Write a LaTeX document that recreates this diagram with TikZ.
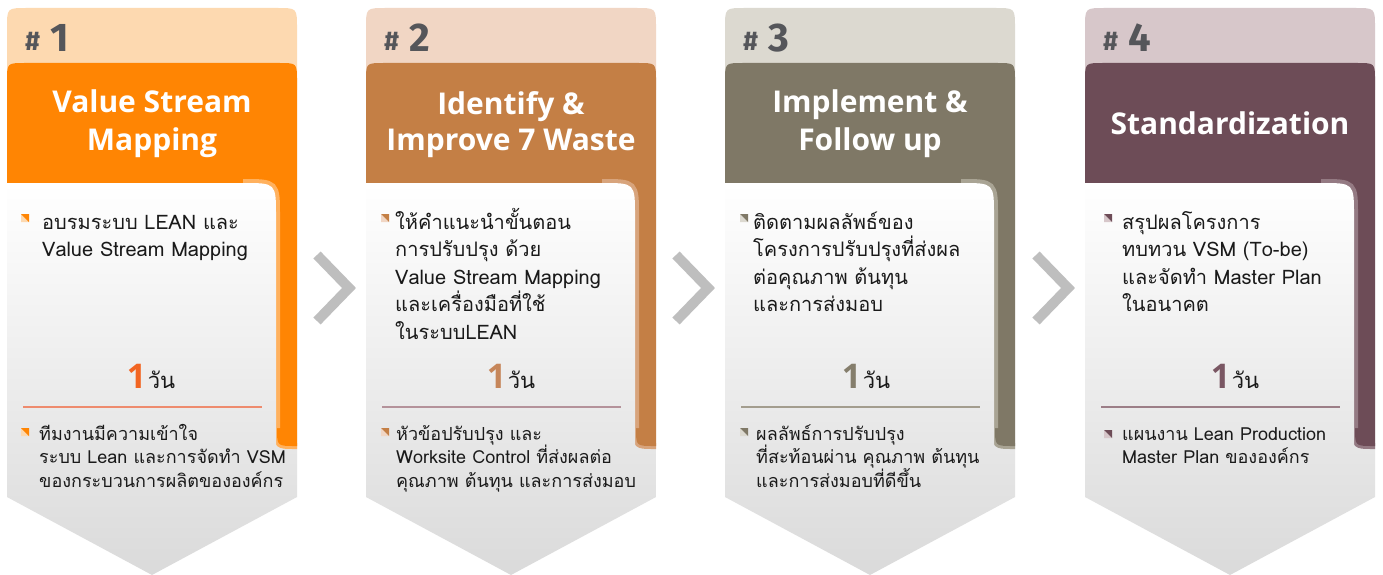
\documentclass[tikz,border=0pt]{standalone}
\usepackage{fontspec}
\setmainfont{Liberation Sans}
\newfontfamily\thai[Script=Thai]{Loma}
\newfontfamily\ttl{Open Sans}
\newfontfamily\hashf{Fira Sans}
\definecolor{tabA}{HTML}{FDD9B0}\definecolor{blkA}{HTML}{FF8503}\definecolor{rimA}{HTML}{FFB15E}\definecolor{numA}{HTML}{F26522}\definecolor{sepA}{HTML}{EE8B6E}
\definecolor{tabB}{HTML}{F1D6C4}\definecolor{blkB}{HTML}{C47F45}\definecolor{rimB}{HTML}{D8A47C}\definecolor{numB}{HTML}{C6865A}\definecolor{sepB}{HTML}{B4929A}
\definecolor{tabC}{HTML}{DCD9D0}\definecolor{blkC}{HTML}{7F7866}\definecolor{rimC}{HTML}{A9A494}\definecolor{numC}{HTML}{857E6C}\definecolor{sepC}{HTML}{A39D8E}
\definecolor{tabD}{HTML}{D7C7CA}\definecolor{blkD}{HTML}{6D4C57}\definecolor{rimD}{HTML}{947A83}\definecolor{numD}{HTML}{7A5763}\definecolor{sepD}{HTML}{9C7E87}
\definecolor{panelbot}{HTML}{DADADA}
\definecolor{hashgray}{HTML}{55565A}
\definecolor{chevgray}{HTML}{BEBEBE}
\definecolor{bodytext}{HTML}{1A1A1A}
\tikzset{
  txt/.style={inner sep=0, text=bodytext, font=\thai\fontsize{20}{20}\selectfont},
  txtsm/.style={inner sep=0, text=bodytext, font=\thai\fontsize{18}{18}\selectfont},
  titletxt/.style={inner sep=0, text=white, font=\ttl\bfseries\fontsize{30}{30}\selectfont, anchor=base},
  chev/.style={draw=chevgray, line width=10, miter limit=10},
}
% card background: #1 x0, #2 colour suffix, #3 number, #4 name
\newcommand\cardbase[4]{%
\begin{scope}[shift={(#1,0)}]
  \fill[tab#2] (0,90) -- (0,28) .. controls (0,8) .. (20,8) -- (270,8) .. controls (290,8) .. (290,28) -- (290,90) -- cycle;
  \begin{scope}
    \clip (0,183) -- (290,183) -- (290,497) -- (145,575) -- (0,497) -- cycle;
    \shade[top color=white, bottom color=panelbot] (0,183) rectangle (290,575);
  \end{scope}
  \draw[rim#2, line width=6] (270,420) -- (270,428) .. controls (270,446) .. (288,446) -- (290,446);
  \fill[blk#2] (0,300) -- (0,81) .. controls (0,63) .. (18,63) -- (272,63) .. controls (290,63) .. (290,81) -- (290,446) -- (288,446) .. controls (270,446) .. (270,428) -- (270,300) -- cycle;
  \draw[rim#2, line width=8] (236,183) .. controls (269,183) .. (269,216) -- (269,428);
  \begin{scope}
    \clip (0,183) -- (236,183) .. controls (269,183) .. (269,216) -- (269,450) -- (0,450) -- cycle;
    \shade[top color=white, bottom color=panelbot] (0,183) rectangle (290,575);
  \end{scope}
  \draw[sep#2, line width=2] (16,407) -- (255,407);
  \node[anchor=base west, inner sep=0, text=hashgray, font=\hashf\bfseries\fontsize{27}{27}\selectfont] (#4h) at (18,51) {\#};
  \node[anchor=base west, inner sep=0, text=hashgray, font=\hashf\bfseries\fontsize{40}{40}\selectfont] (#4n) at (43,52) {#3};
\end{scope}}
\newcommand\bul[3]{%
  \fill[tab#3] (#1,#2) -- (#1,#2+8) -- (#1+8,#2+8) -- cycle;
  \fill[blk#3] (#1,#2) -- (#1+8,#2) -- (#1+8,#2+8) -- cycle;}
% #1 name, #2 style, #3 x, #4 first baseline, #5 spacing, #6 lines
\newcommand\txtlines[6]{%
  \foreach \t [count=\i from 0] in {#6} {
    \node[#2, anchor=base west] (#1\i) at ({#3},{#4+\i*#5}) {\t};
  }}
\newcommand\days[3]{% #1 name #2 x #3 colour suffix
  \node[anchor=base, inner sep=0] (#1) at (#2,388) {{\color{num#3}\ttl\bfseries\fontsize{34}{34}\selectfont 1}\,{\thai\color{bodytext}\fontsize{22}{22}\selectfont วัน}};}
\begin{document}
\begin{tikzpicture}[x=1pt,y=-1pt]
\useasboundingbox (0,0) rectangle (1383,575);
\fill[white] (0,0) rectangle (1383,575);

% ---------- card 1 ----------
\cardbase{7}{A}{1}{ca}
\begin{scope}[shift={(7,0)}]
  \node[titletxt] (ca1) at (145,113) {Value Stream};
  \node[titletxt] (ca2) at (145,150) {Mapping};
  \bul{14}{214}{A}
  \txtlines{cat}{txt}{35}{229}{27.5}{อบรมระบบ LEAN และ, Value Stream Mapping}
  \days{cad}{144}{A}
  \bul{14}{428}{A}
  \txtlines{cab}{txtsm}{32}{440}{23.5}{ทีมงานมีความเข้าใจ, ระบบ Lean และการจัดทำ VSM, ของกระบวนการผลิตขององค์กร}
\end{scope}

% ---------- card 2 ----------
\cardbase{366}{B}{2}{cb}
\begin{scope}[shift={(366,0)}]
  \node[titletxt] (cb1) at (145,114) {Identify \&};
  \node[titletxt] (cb2) at (145,150) {Improve 7 Waste};
  \bul{15}{214}{B}
  \txtlines{cbt}{txt}{29}{229}{27.5}{ให้คำแนะนำขั้นตอน, การปรับปรุง ด้วย, Value Stream Mapping, และเครื่องมือที่ใช้, ในระบบLEAN}
  \days{cbd}{145}{B}
  \bul{15}{428}{B}
  \txtlines{cbb}{txtsm}{30}{440}{23.5}{หัวข้อปรับปรุง และ, Worksite Control ที่ส่งผลต่อ, คุณภาพ ต้นทุน และการส่งมอบ}
\end{scope}

% ---------- card 3 ----------
\cardbase{725}{C}{3}{cc}
\begin{scope}[shift={(725,0)}]
  \node[titletxt] (cc1) at (145,113) {Implement \&};
  \node[titletxt] (cc2) at (145,150) {Follow up};
  \bul{15}{214}{C}
  \txtlines{cct}{txt}{28}{229}{27.5}{ติดตามผลลัพธ์ของ, โครงการปรับปรุงที่ส่งผล, ต่อคุณภาพ ต้นทุน, และการส่งมอบ}
  \days{ccd}{141}{C}
  \bul{15}{428}{C}
  \txtlines{ccb}{txtsm}{31}{440}{23.5}{ผลลัพธ์การปรับปรุง, ที่สะท้อนผ่าน คุณภาพ ต้นทุน, และการส่งมอบที่ดีขึ้น}
\end{scope}

% ---------- card 4 ----------
\cardbase{1085}{D}{4}{cd}
\begin{scope}[shift={(1085,0)}]
  \node[titletxt] (cd1) at (145,135) {Standardization};
  \bul{19}{214}{D}
  \txtlines{cdt}{txt}{37}{229}{27.5}{สรุปผลโครงการ, ทบทวน VSM (To-be), และจัดทำ Master Plan, ในอนาคต}
  \days{cdd}{150}{D}
  \bul{19}{430}{D}
  \txtlines{cdb}{txtsm}{37}{440}{23.5}{แผนงาน Lean Production, Master Plan ขององค์กร}
\end{scope}

% ---------- chevrons between cards ----------
\coordinate (k1) at (332,288);
\coordinate (k2) at (691,288);
\coordinate (k3) at (1051,288);
\foreach \k in {k1,k2,k3} {
  \draw[chev] ([shift={(-15,-33)}]\k) -- ([shift={(17,0)}]\k) -- ([shift={(-15,33)}]\k);
}
\end{tikzpicture}
\end{document}
